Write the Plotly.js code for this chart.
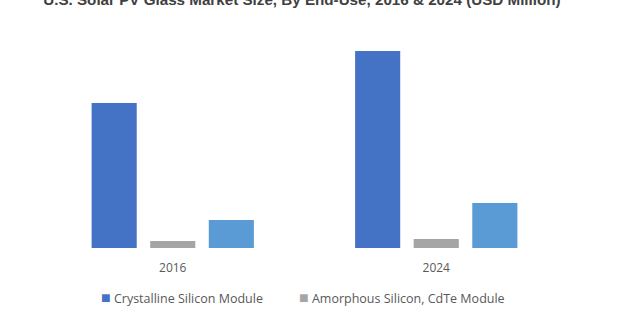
<!DOCTYPE html>
<html>
<head>
<meta charset="utf-8">
<script src="https://cdn.plot.ly/plotly-3.0.1.min.js"></script>
<style>html,body{margin:0;padding:0;background:#fff;}#chart{width:620px;height:315px;}</style>
</head>
<body>
<div id="chart"></div>
<script>
const years = ["2016", "2024"];
const seriesNames = ["Crystalline Silicon Module", "Amorphous Silicon, CdTe Module", "Others"];
const crystalline = [290, 394];
const amorphous = [14, 18];
const others = [56, 90];
const colors = ["#4472C4", "#A5A5A5", "#5B9BD5"];

const traces = [crystalline, amorphous, others].map((vals, i) => ({
  type: "bar",
  name: seriesNames[i],
  x: years,
  y: vals,
  marker: {color: colors[i]},
  showlegend: false,
  hoverinfo: "x+y+name"
}));

const legendFont = {family: "Open Sans, sans-serif", size: 12.5, color: "#595959"};
const legendX = [0.111, 0.486];
const annotations = [0, 1].map(i => ({
  xref: "paper", yref: "paper", x: legendX[i], y: -0.226, xanchor: "left", yanchor: "middle",
  showarrow: false, font: legendFont,
  text: '<span style="color:' + colors[i] + ';font-size:16px">■</span> ' + seriesNames[i]
}));

const layout = {
  width: 620, height: 315,
  margin: {l: 41, r: 52, t: 30, b: 67},
  paper_bgcolor: "#fff", plot_bgcolor: "#fff",
  title: {
    text: "U.S. Solar PV Glass Market Size, By End-Use, 2016 & 2024 (USD Million)",
    font: {family: "Liberation Sans, Arial", size: 15.2, color: "#404040", weight: "bold"},
    xref: "container", yref: "container", x: 0.487, xanchor: "center", y: 1, yanchor: "middle"
  },
  barmode: "group",
  bargap: 0.333,
  bargroupgap: 0.23,
  xaxis: {
    type: "category",
    showline: false, showgrid: false, zeroline: false,
    ticks: "outside", ticklen: 9, tickcolor: "rgba(0,0,0,0)",
    tickfont: {family: "Open Sans, sans-serif", size: 12, color: "#595959"}
  },
  yaxis: {
    range: [0, 436], visible: false, showgrid: false, zeroline: false
  },
  showlegend: false,
  annotations: annotations
};

Plotly.newPlot("chart", traces, layout, {displayModeBar: false, staticPlot: true});
</script>
</body>
</html>
